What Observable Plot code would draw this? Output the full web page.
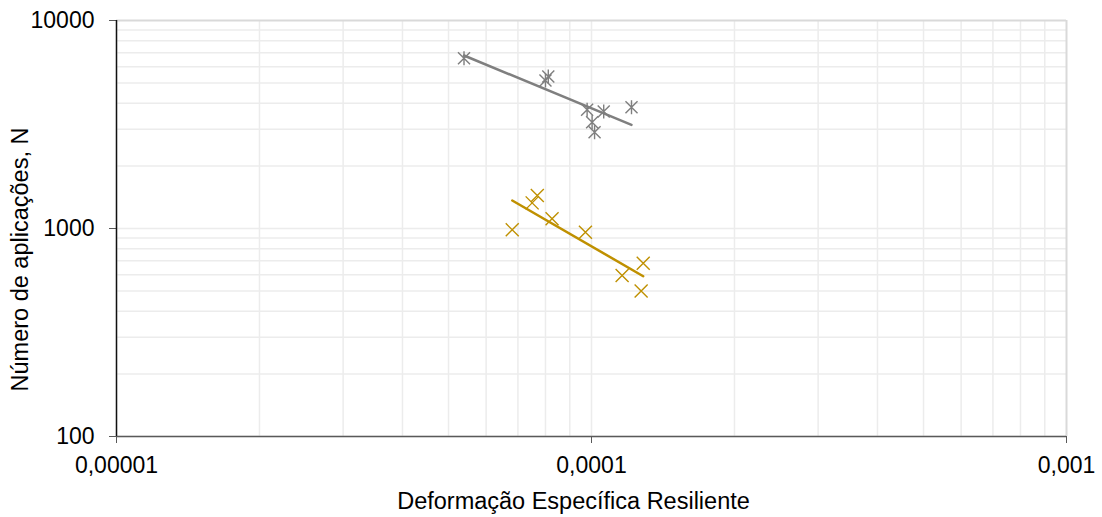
<!DOCTYPE html>
<html>
<head>
<meta charset="utf-8">
<script src="https://cdn.jsdelivr.net/npm/d3@7"></script>
<script src="https://cdn.jsdelivr.net/npm/@observablehq/plot@0.6"></script>
<style>
  html, body { margin: 0; padding: 0; background: #fff; }
  #chart svg { display: block; font-family: "Liberation Sans", Arial, sans-serif; }
</style>
</head>
<body>
<div id="chart"></div>
<script>
// Series 1 (gray, asterisk markers)
const grayStrain = [5.39e-5, 8.0e-5, 8.11e-5, 9.79e-5, 1.003e-4, 1.015e-4, 1.061e-4, 1.214e-4];
const grayN      = [6590, 5150, 5380, 3720, 3245, 2904, 3650, 3828];
// Series 2 (gold, x markers)
const goldStrain = [6.81e-5, 7.50e-5, 7.69e-5, 8.26e-5, 9.71e-5, 1.16e-4, 1.285e-4, 1.272e-4];
const goldN      = [985, 1328, 1441, 1113, 960, 594, 681, 500];
// Axis ticks
const xTicks = [1e-5, 1e-4, 1e-3];
const xTickLabels = ["0,00001", "0,0001", "0,001"];
const yTicks = [100, 1000, 10000];
const yTickLabels = ["100", "1000", "10000"];
const xTitle = "Deformação Específica Resiliente";
const yTitle = "Número de aplicações, N";

const grayColor = "#7f7f7f";
const goldColor = "#bf9000";

// minor/major grid values
const xGrid = [];
for (const base of [1e-5, 1e-4]) for (let k = 1; k <= 9; k++) xGrid.push(base * k);
const yGrid = [];
for (const base of [100, 1000]) for (let k = 1; k <= 9; k++) yGrid.push(base * k);

// power-law fit (linear in log-log space)
function powerFit(xs, ys) {
  const lx = xs.map(Math.log10), ly = ys.map(Math.log10);
  const mx = d3.mean(lx), my = d3.mean(ly);
  let sxy = 0, sxx = 0;
  lx.forEach((v, i) => { sxy += (v - mx) * (ly[i] - my); sxx += (v - mx) ** 2; });
  const b = sxy / sxx, a = my - b * mx;
  const [x0, x1] = d3.extent(xs);
  return [x0, x1].map(x => ({x, y: Math.pow(10, a + b * Math.log10(x))}));
}

const grayPts = grayStrain.map((x, i) => ({x, y: grayN[i]}));
const goldPts = goldStrain.map((x, i) => ({x, y: goldN[i]}));
const grayFit = powerFit(grayStrain, grayN);
const goldFit = powerFit(goldStrain, goldN);

const starSym = {
  draw(ctx, size) {
    const r = Math.sqrt(size / Math.PI);
    const d = r * 0.86;
    ctx.moveTo(0, -r); ctx.lineTo(0, r);
    ctx.moveTo(-d, -d); ctx.lineTo(d, d);
    ctx.moveTo(-d, d); ctx.lineTo(d, -d);
  }
};
const crossSym = {
  draw(ctx, size) {
    const d = Math.sqrt(size / Math.PI);
    ctx.moveTo(-d, -d); ctx.lineTo(d, d);
    ctx.moveTo(-d, d); ctx.lineTo(d, -d);
  }
};

const chart = Plot.plot({
  width: 1102,
  height: 517,
  marginLeft: 116,
  marginTop: 20,
  marginRight: 36,
  marginBottom: 81,
  style: {fontFamily: "'Liberation Sans', Arial, sans-serif", background: "#fff"},
  x: {type: "log", domain: [1e-5, 1e-3]},
  y: {type: "log", domain: [100, 10000]},
  marks: [
    Plot.ruleX(xGrid, {stroke: "#ececec", strokeWidth: 1.5}),
    Plot.ruleY(yGrid, {stroke: "#ececec", strokeWidth: 1.5}),
    Plot.ruleY([10000], {stroke: "#d9d9d9", strokeWidth: 2}),
    Plot.ruleX([1e-3], {stroke: "#d9d9d9", strokeWidth: 2}),
    Plot.axisY({ticks: yTicks, tickFormat: (d) => yTickLabels[yTicks.indexOf(d)], tickSize: 7, tickPadding: 15, fontSize: 23, label: null, color: "#000", stroke: "#595959"}),
    Plot.axisX({ticks: xTicks, tickFormat: (d) => xTickLabels[xTicks.indexOf(d)], tickSize: 7, tickPadding: 13, fontSize: 23, label: null, color: "#000", stroke: "#595959"}),
    Plot.ruleY([100], {stroke: "#595959", strokeWidth: 1.5}),
    Plot.ruleX([1e-5], {stroke: "#111", strokeWidth: 1.5}),
    Plot.line(grayFit, {x: "x", y: "y", stroke: grayColor, strokeWidth: 2.5}),
    Plot.line(goldFit, {x: "x", y: "y", stroke: goldColor, strokeWidth: 2.5}),
    Plot.dot(grayPts, {x: "x", y: "y", symbol: starSym, r: 7, stroke: grayColor, strokeWidth: 1.4, fill: "none"}),
    Plot.dot(goldPts, {x: "x", y: "y", symbol: crossSym, r: 6.5, stroke: goldColor, strokeWidth: 1.4, fill: "none"}),
    Plot.text([yTitle], {text: d => d, frameAnchor: "left", textAnchor: "middle", lineAnchor: "middle", rotate: -90, dx: -96.5, dy: 31, fontSize: 23.5, fill: "#000"}),
    Plot.text([xTitle], {text: d => d, frameAnchor: "bottom", textAnchor: "middle", lineAnchor: "middle", dx: -18, dy: 64.5, fontSize: 23.5, fill: "#000"})
  ]
});
document.getElementById("chart").appendChild(chart);
</script>
</body>
</html>
